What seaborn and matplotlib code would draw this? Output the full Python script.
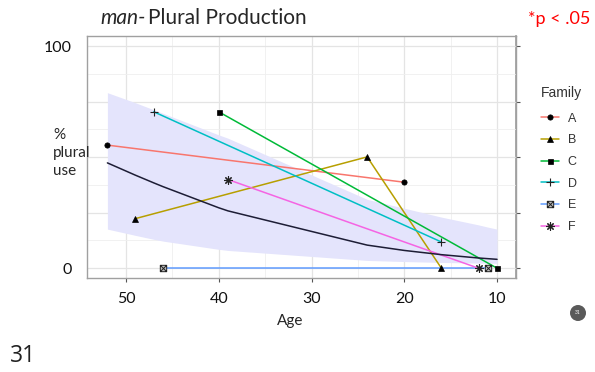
import numpy as np
import pandas as pd
import matplotlib
matplotlib.use('Agg')
import matplotlib.pyplot as plt
import seaborn as sns
from matplotlib.lines import Line2D
from matplotlib.path import Path
from matplotlib.patches import Circle

# ---------------- data ----------------
families = ['A', 'B', 'C', 'D', 'E', 'F']
ages_A = [52, 20]
plural_A = [55.4, 38.7]
ages_B = [49, 24, 16]
plural_B = [22.3, 50.1, 0.0]
ages_C = [40, 10]
plural_C = [70.4, 0.0]
ages_D = [47, 16]
plural_D = [70.4, 11.8]
ages_E = [46, 11]
plural_E = [0.0, 0.0]
ages_F = [39, 12]
plural_F = [39.9, 0.0]

fit_age = [52, 49, 47, 46, 40, 39, 24, 20, 16, 12, 11, 10]
fit_mean = [47.4, 41.9, 38.4, 36.7, 27.2, 25.8, 10.4, 8.0, 6.1, 4.6, 4.3, 4.0]
fit_low = [17.6, 14.8, 13.0, 12.2, 8.5, 8.0, 3.5, 3.0, 2.6, 2.3, 2.25, 2.2]
fit_high = [79.0, 74.5, 71.3, 69.7, 60.0, 58.5, 31.0, 27.0, 23.0, 19.5, 18.5, 17.6]

x_ticks = [50, 40, 30, 20, 10]
y_ticks = [0, 25, 50, 75, 100]
y_tick_labels = ['0', '', '', '', '100']

family_ages = dict(A=ages_A, B=ages_B, C=ages_C, D=ages_D, E=ages_E, F=ages_F)
family_vals = dict(A=plural_A, B=plural_B, C=plural_C, D=plural_D, E=plural_E, F=plural_F)
rows = []
for f in families:
    for a, v in zip(family_ages[f], family_vals[f]):
        rows.append({'Family': f, 'Age': a, 'Plural': v})
df = pd.DataFrame(rows)

palette = {'A': '#F8766D', 'B': '#B79F00', 'C': '#00BA38',
           'D': '#00BFC4', 'E': '#619CFF', 'F': '#F564E3'}

# box-cross marker for E
box_cross = Path(
    [(-1, -1), (1, -1), (1, 1), (-1, 1), (-1, -1), (-1, -1), (1, 1), (-1, 1), (1, -1)],
    [Path.MOVETO, Path.LINETO, Path.LINETO, Path.LINETO, Path.CLOSEPOLY,
     Path.MOVETO, Path.LINETO, Path.MOVETO, Path.LINETO])
marker_style = {
    'A': dict(marker='o', ms=3.8, mfc='black', mec='black', mew=0.5),
    'B': dict(marker='^', ms=4.3, mfc='black', mec='black', mew=0.5),
    'C': dict(marker='s', ms=3.6, mfc='black', mec='black', mew=0.5),
    'D': dict(marker='+', ms=6.0, mfc='none', mec='#222222', mew=0.8),
    'E': dict(marker=box_cross, ms=4.6, mfc='#bdbdbd', mec='#222222', mew=0.7),
    'F': dict(marker=(8, 2, 0), ms=6.0, mfc='none', mec='#222222', mew=0.8),
}

# ---------------- figure ----------------
sns.set_theme(style='white')
plt.rcParams['font.family'] = ['Lato', 'DejaVu Sans']

fig = plt.figure(figsize=(5.95, 3.72), dpi=100)
fig.patch.set_facecolor('white')
ax = fig.add_axes([0.1462, 0.2527, 0.7210, 0.6505])
ax.set_facecolor('white')

ax.fill_between(fit_age, fit_low, fit_high, color='#e4e4fc', lw=0, zorder=1)
sns.lineplot(data=df, x='Age', y='Plural', hue='Family', palette=palette,
             estimator=None, sort=True, lw=1.1, legend=False, ax=ax, zorder=3)
sns.lineplot(x=fit_age, y=fit_mean, color='#1d1d35', lw=1.1, ax=ax, zorder=4)
for f in families:
    ax.plot(family_ages[f], family_vals[f], ls='none', zorder=5, **marker_style[f])

ax.set_xlim(54.2, 7.96)
ax.set_ylim(-4.4, 104.5)
ax.set_xticks(x_ticks)
ax.set_xticklabels([str(t) for t in x_ticks])
ax.set_xticks([45, 35, 25, 15], minor=True)
ax.set_yticks(y_ticks)
ax.set_yticklabels(y_tick_labels)
ax.set_yticks([12.5, 37.5, 62.5, 87.5], minor=True)
ax.grid(which='major', color='#e4e4e4', lw=0.9)
ax.grid(which='minor', color='#efefef', lw=0.6)
ax.set_axisbelow(True)
ax.set_xlabel('')
ax.set_ylabel('')
ax.tick_params(axis='y', which='both', length=0, pad=11, labelsize=11.5, labelcolor='#111111')
ax.tick_params(axis='x', which='major', length=3, width=0.8, color='#555555', pad=7,
               labelsize=11.5, labelcolor='#111111', bottom=True)
ax.tick_params(axis='x', which='minor', length=0)
for s in ax.spines.values():
    s.set_color('#a0a0a0')
    s.set_linewidth(1.0)

sec = ax.secondary_yaxis('right')
sec.set_yticks(y_ticks)
sec.set_yticklabels([])
sec.tick_params(length=3, width=0.8, color='#555555')
sec.spines['right'].set_color('#a0a0a0')

# legend
handles = [Line2D([0], [0], color=palette[f], lw=1.1, **marker_style[f]) for f in families]
leg = ax.legend(handles, families, title='Family', loc='upper left',
                bbox_to_anchor=(541 / 595, 1 - 86 / 372), bbox_transform=fig.transFigure,
                frameon=False, handlelength=1.4, handletextpad=0.75, labelspacing=0.78,
                borderpad=0, borderaxespad=0, alignment='left',
                prop={'family': 'Liberation Sans', 'size': 9},
                title_fontproperties={'family': 'Liberation Sans', 'size': 10})
leg._legend_box.sep = 9
for t in leg.get_texts():
    t.set_color('#333333')
leg.get_title().set_color('#333333')

# texts
fig.text(53 / 595, 1 - 135 / 372, '%', fontsize=11, ha='left', va='center')
fig.text(53 / 595, 1 - 153 / 372, 'plural', fontsize=11, ha='left', va='center')
fig.text(53 / 595, 1 - 171 / 372, 'use', fontsize=11, ha='left', va='center')
fig.text(290 / 595, 1 - 321 / 372, 'Age', fontsize=11, ha='center', va='center')

t1 = fig.text(100 / 595, 1 - 18 / 372, 'man-', fontsize=15, style='italic',
              ha='left', va='center')
fig.canvas.draw()
bb = t1.get_window_extent()
fig.text(bb.x1 / fig.bbox.width + 3 / 595, 1 - 18 / 372, 'Plural Production', fontsize=15,
         ha='left', va='center')
fig.text(590 / 595, 1 - 19 / 372, '*p < .05', fontsize=13, color='#ff0000',
         ha='right', va='center')
fig.text(10 / 595, 1 - 356 / 372, '31', fontsize=16.5, family='Open Sans', color='#222222',
         ha='left', va='center')
fig.add_artist(Circle((5.78, 3.72 - 3.13), 0.08, transform=fig.dpi_scale_trans,
                      color='#5a5a5a', lw=0))
fig.text(578 / 595, 1 - 313 / 372, '31', fontsize=3.5, color='white', ha='center', va='center')

fig.savefig('out.png', dpi=100)
